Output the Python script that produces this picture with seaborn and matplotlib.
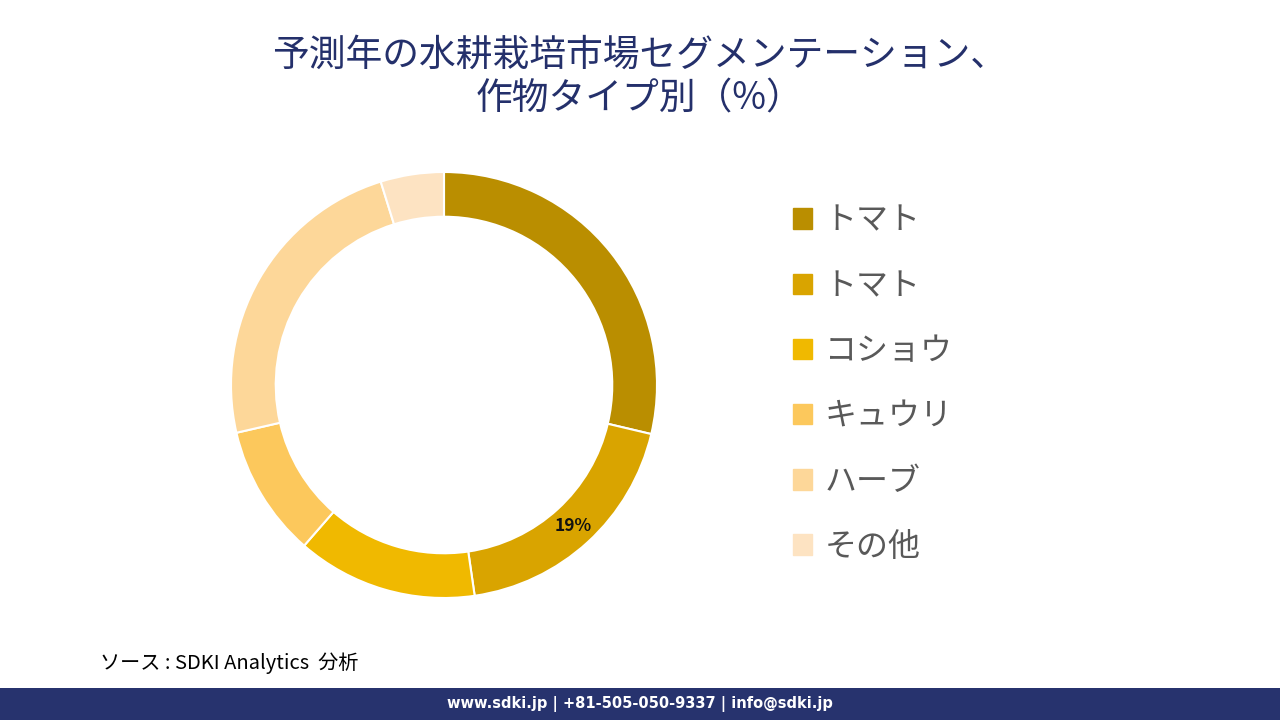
import matplotlib
matplotlib.use("Agg")
import matplotlib.pyplot as plt
import seaborn as sns
from matplotlib.patches import Rectangle

# data
crops = ["トマト", "トマト", "コショウ", "キュウリ", "ハーブ", "その他"]
shares = [28.7, 19.0, 13.7, 10.0, 23.8, 4.8]
show_label = [False, True, False, False, False, False]
colors = ["#BA8E00", "#D9A400", "#F0B900", "#FCC85C", "#FDD799", "#FDE3C2"]

title = "予測年の水耕栽培市場セグメンテーション、\n作物タイプ別（%）"
source = "ソース : SDKI Analytics  分析"
footer = "www.sdki.jp | +81-505-050-9337 | info@sdki.jp"

sns.set_theme(style="white")
plt.rcParams['font.family'] = ['Noto Sans CJK JP', 'DejaVu Sans']

palette = sns.color_palette(colors)

fig = plt.figure(figsize=(12.8, 7.2), dpi=100)
fig.patch.set_facecolor("white")

ax = fig.add_axes([231 / 1280, (720 - 598) / 720, 426 / 1280, 426 / 720])
wedges, texts, autotexts = ax.pie(
    shares, colors=palette, startangle=90, counterclock=False,
    wedgeprops=dict(width=0.21, edgecolor="white", linewidth=1.5),
    autopct=lambda p: "", pctdistance=0.895,
)
for t, v, show in zip(autotexts, shares, show_label):
    if show:
        t.set_text(f"{v:.0f}%")
        t.set_fontsize(12.5)
        t.set_fontweight("bold")
        t.set_color("#111111")
ax.set_xlim(-1, 1)
ax.set_ylim(-1, 1)
ax.set_aspect("equal")
ax.axis("off")

# legend
leg = fig.legend(
    [Rectangle((0, 0), 1, 1, color=c) for c in palette], crops,
    loc="upper left", bbox_to_anchor=(780 / 1280, 1 - 192 / 720),
    frameon=False, fontsize=23, handlelength=0.6, handleheight=0.6,
    handletextpad=0.4, labelspacing=1.04, borderaxespad=0,
)
for txt in leg.get_texts():
    txt.set_color("#595959")

fig.text(0.5, 1 - 77 / 720, title, ha="center", va="center",
         fontsize=26.5, color="#24306B", linespacing=1.15)

fig.text(100 / 1280, 1 - 663 / 720, source, ha="left", va="center",
         fontsize=14.5, style="italic", color="black")

fig.patches.append(Rectangle((0, 0), 1, 32 / 720, transform=fig.transFigure,
                             facecolor="#27336E", edgecolor="none"))
fig.text(0.5, 16 / 720, footer, ha="center", va="center",
         fontsize=10.5, fontweight="bold", color="white", family=["DejaVu Sans"])

fig.savefig("out.png", dpi=100)
